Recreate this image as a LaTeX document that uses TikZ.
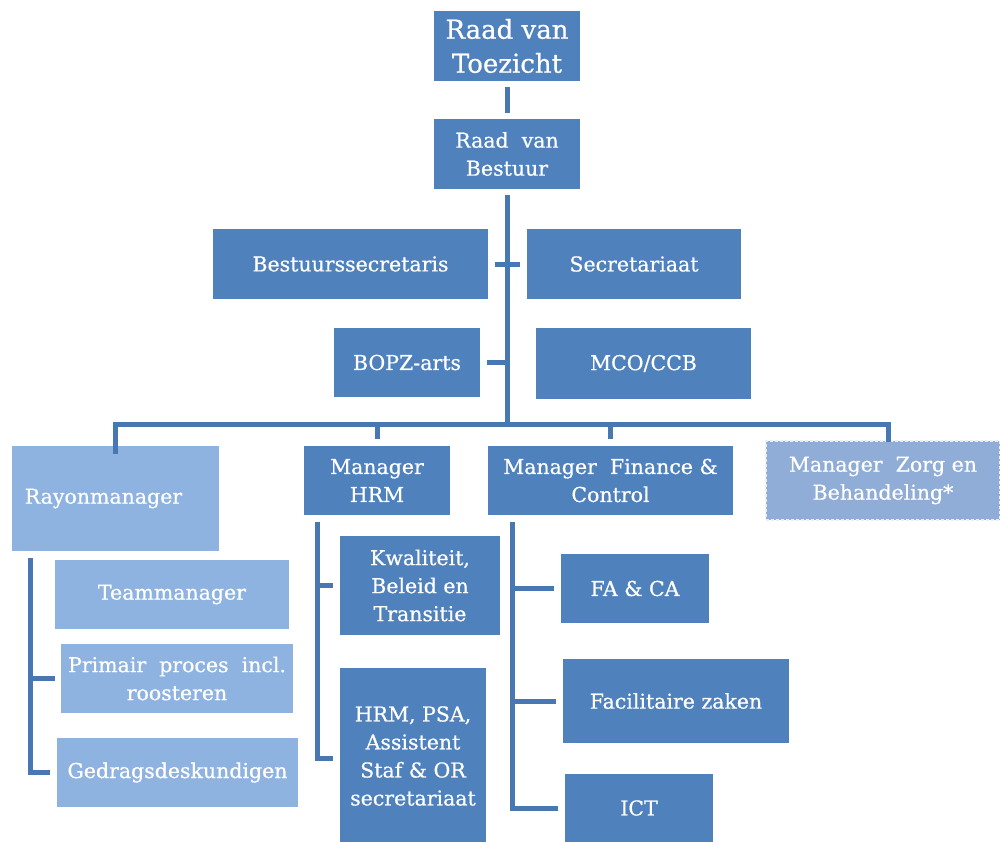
\documentclass[tikz,border=0pt]{standalone}
\usepackage{fontspec}
\setmainfont{DejaVu Serif}[FakeBold=0.6]
\definecolor{darkbox}{RGB}{79,129,189}
\definecolor{lightbox}{RGB}{142,179,224}
\definecolor{zorgbox}{RGB}{143,173,214}
\definecolor{linec}{RGB}{72,119,178}
\begin{document}
\begin{tikzpicture}[x=1pt,y=-1pt,
  box/.style={fill=darkbox, text=white, inner sep=0pt, align=center,
    font=\fontsize{20.5}{28}\selectfont},
  lbox/.style={box, fill=lightbox},
  conn/.style={draw=linec, line width=5pt, line join=miter}]
\useasboundingbox (0,0) rectangle (1000,841);
% boxes: center (x,y), width, height
\node[box, minimum width=146, minimum height=70, font=\fontsize{26}{34}\selectfont] (rvt) at (507,46) {Raad van\\Toezicht};
\node[box, minimum width=146, minimum height=70] (rvb) at (507,154) {Raad\ \ van\\Bestuur};
\node[box, minimum width=275, minimum height=70] (bsec) at (350.5,264) {Bestuurssecretaris};
\node[box, minimum width=214, minimum height=70] (sec) at (634,264) {Secretariaat};
\node[box, minimum width=146, minimum height=69] (bopz) at (407,362.5) {BOPZ-arts};
\node[box, minimum width=215, minimum height=71] (mco) at (643.5,363.5) {MCO/CCB};
\node[lbox, minimum width=207, minimum height=105] (rayon) at (115.5,498.5) {Rayonmanager\hspace*{24pt}};
\node[box, minimum width=146, minimum height=69] (hrm) at (377,480.5) {Manager\\HRM};
\node[box, minimum width=245, minimum height=69] (fc) at (610.5,480.5) {Manager\ \ Finance \&\\Control};
\node[lbox, fill=zorgbox, minimum width=234, minimum height=79, draw=white!80!zorgbox, dashed, line width=2.5pt, dash pattern=on 3pt off 2pt] (zorg) at (883,480.5) {Manager\ \ Zorg en\\Behandeling*};
\node[lbox, minimum width=234, minimum height=69] (team) at (172,594.5) {Teammanager};
\node[lbox, minimum width=232, minimum height=69] (prim) at (177,678.5) {Primair\ \ proces\ \ incl.\\roosteren};
\node[lbox, minimum width=241, minimum height=69] (ged) at (177.5,772.5) {Gedragsdeskundigen};
\node[box, minimum width=160, minimum height=99] (kwal) at (420,585.5) {Kwaliteit,\\Beleid en\\Transitie};
\node[box, minimum width=146, minimum height=176] (psa) at (413,756) {HRM, PSA,\\Assistent\\Staf \& OR\\secretariaat};
\node[box, minimum width=148, minimum height=69] (faca) at (635,588.5) {FA \& CA};
\node[box, minimum width=226, minimum height=84] (fac) at (676,701) {Facilitaire zaken};
\node[box, minimum width=148, minimum height=68] (ict) at (639,808) {ICT};
% connectors
\coordinate (busL) at (116,424);
\coordinate (busR) at (888,424);
\coordinate (rv) at (30,558);
\coordinate (hv) at (317,522);
\coordinate (fv) at (512,522);
\draw[conn, shorten <=6pt, shorten >=6pt] (rvt) -- (rvb);
\draw[conn, shorten <=6pt] (rvb.south) -- (rvb.south |- busL);
\draw[conn] ([yshift=-8]rayon.north) -- (rayon.north |- busL) -- (busR) -- ([xshift=5,yshift=-2]zorg.north);
\draw[conn, shorten >=7pt] (hrm.north |- busL) -- (hrm.north);
\draw[conn, shorten >=7pt] (fc.north |- busL) -- (fc.north);
\draw[conn, shorten <=7pt, shorten >=7pt] (bsec.east) -- (sec.west);
\draw[conn, shorten <=7pt] (bopz.east) -- (bopz.east -| rvb.south);
\draw[conn] (rv) |- ([xshift=-7]ged.west);
\draw[conn] (rv |- prim.west) -- ([xshift=-6]prim.west);
\draw[conn] (hv) |- ([xshift=-7,yshift=-2]psa.west);
\draw[conn] (hv |- kwal.west) -- ([xshift=-7]kwal.west);
\draw[conn] (fv) |- ([xshift=-7]ict.west);
\draw[conn] (fv |- faca.west) -- ([xshift=-7]faca.west);
\draw[conn] (fv |- fac.west) -- ([xshift=-7]fac.west);
\end{tikzpicture}
\end{document}
